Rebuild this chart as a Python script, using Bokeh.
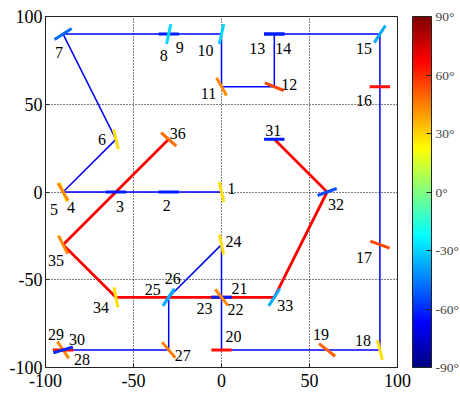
import numpy as np
from bokeh.plotting import figure
from bokeh.models import ColumnDataSource, ColorBar, LinearColorMapper, FixedTicker, PrintfTickFormatter
from bokeh.transform import linear_cmap
from bokeh.core.properties import value
from bokeh.embed import file_html
from bokeh.resources import INLINE

# ---------------- data ----------------
node_id = list(range(1, 37))
node_x = [0, -30, -60, -90, -90, -60, -90, -30, -30, 0, 0, 30, 30, 30, 90, 90, 90, 90,
          60, 0, 0, 0, 0, 0, -30, -30, -30, -90, -90, -90, 30, 60, 30, -60, -90, -30]
node_y = [0, 0, 0, 0, 0, 30, 90, 90, 90, 90, 60, 60, 90, 90, 90, 60, -30, -90,
          -90, -90, -60, -60, -60, -30, -60, -60, -90, -90, -90, -90, 30, 0, -60, -60, -30, 30]
# orientation of each short bar, degrees from vertical (+ = top leaning left)
orient_deg = [12, 90, 90, 22, 30, 14, -57, -90, -12, -13, 29, 68, -90, -90, -33, 90, 70, 14,
              52, 90, 90, -90, 38, 12, -34, -34, 40, 34, 90, -73, -90, -70, -33, 11, 27, 48]
# colour value of each bar on the colour scale (degrees)
color_deg = [28, -62, -62, 28, 43, 28, -48, -62, -29, -29, 43, 55, -62, -62, -37, 64, 55, 28,
             50, 64, 64, -62, 43, 28, -37, -37, 45, 43, 64, -60, -62, -53, -37, 28, 43, 48]
blue_path = node_id[:30]
red_path = node_id[30:]
axis_ticks = [-100, -50, 0, 50, 100]
grid_ticks = [-50, 0, 50]
cbar_ticks = [-90, -60, -30, 0, 30, 60, 90]

# ---------------- layout helpers (screen offsets of the number labels, px) ----------------
label_off = [(10, -4), (-2, 13), (4, 14), (8, 15), (-9, 17), (-14, 0), (-4, 18), (-5, 21), (11, 13),
             (-16, 16), (-13, 7), (15, -2), (-17, 14), (9, 14), (-16, 14), (-16, 14), (-16, 13),
             (-17, -9), (-6, -15), (12, -13), (18, -9), (14, 12), (-17, 11), (12, -3), (-16, -8),
             (4, -19), (14, 6), (19, 10), (-7, -15), (14, -10), (-1, -9), (9, 12), (11, 8),
             (-15, 10), (-7, 16), (9, -6)]


def jet(n=256):
    cols = []
    for i in range(n):
        t = i / (n - 1)
        r = float(np.clip(1.5 - abs(4 * t - 3), 0, 1))
        g = float(np.clip(1.5 - abs(4 * t - 2), 0, 1))
        b = float(np.clip(1.5 - abs(4 * t - 1), 0, 1))
        cols.append("#%02x%02x%02x" % (round(r * 255), round(g * 255), round(b * 255)))
    return cols


JET = jet()
SERIF = "Liberation Serif"

p = figure(width=460, height=396, x_range=(-100, 100), y_range=(-100, 100),
           output_backend="svg", toolbar_location=None,
           min_border_left=45, min_border_top=16, min_border_bottom=29, min_border_right=63)
p.background_fill_color = "white"
p.border_fill_color = "white"
p.outline_line_color = "#222222"
p.outline_line_width = 1

for ax in (p.xaxis, p.yaxis):
    ax.ticker = FixedTicker(ticks=axis_ticks)
    ax.formatter = PrintfTickFormatter(format="%d")
    ax.major_tick_in = 4
    ax.major_tick_out = 0
    ax.minor_tick_line_color = None
    ax.major_tick_line_color = "#222222"
    ax.axis_line_color = "#222222"
    ax.major_label_text_font = SERIF
    ax.major_label_text_font_size = "18px"
    ax.major_label_text_color = "black"
p.xaxis.major_label_standoff = 6
p.yaxis.major_label_standoff = 3

for g in (p.xgrid, p.ygrid):
    g.ticker = FixedTicker(ticks=grid_ticks)
    g.grid_line_color = "black"
    g.grid_line_dash = "1 2"
    g.grid_line_width = 1

# connecting paths
bx = [node_x[i - 1] for i in blue_path]
by = [node_y[i - 1] for i in blue_path]
rx = [node_x[i - 1] for i in red_path]
ry = [node_y[i - 1] for i in red_path]
p.line(bx, by, line_color="#0000ff", line_width=1.5)
p.line(rx, ry, line_color="#ff0000", line_width=2.8)

# oriented bars
x = np.array(node_x, dtype=float)
y = np.array(node_y, dtype=float)
th = np.radians(orient_deg)
h = 5.8
seg = ColumnDataSource(dict(x0=x - h * np.sin(th), y0=y + h * np.cos(th),
                            x1=x + h * np.sin(th), y1=y - h * np.cos(th),
                            c=color_deg))
p.segment(x0="x0", y0="y0", x1="x1", y1="y1", source=seg,
          line_color=linear_cmap("c", JET, -90, 90), line_width=3)

# number labels
lab = ColumnDataSource(dict(x=node_x, y=node_y, t=[str(i) for i in node_id],
                            dx=[o[0] for o in label_off], dy=[o[1] for o in label_off]))
p.text(x="x", y="y", text="t", x_offset="dx", y_offset="dy", source=lab,
       text_font=value(SERIF), text_font_size="16px", text_align="center",
       text_baseline="middle", text_color="black")

mapper = LinearColorMapper(palette=JET, low=-90, high=90)
cb = ColorBar(color_mapper=mapper, ticker=FixedTicker(ticks=cbar_ticks),
              formatter=PrintfTickFormatter(format="%d°"),
              width=19, height=351, padding=0, margin=0, location=(367, 0),
              label_standoff=4, major_tick_in=5, major_tick_out=0,
              major_tick_line_color="#222222", bar_line_color="#222222",
              border_line_color=None, background_fill_color=None,
              major_label_text_font=SERIF, major_label_text_font_size="13.5px")
p.add_layout(cb, "center")

open("out.html", "w").write(file_html(p, INLINE))
